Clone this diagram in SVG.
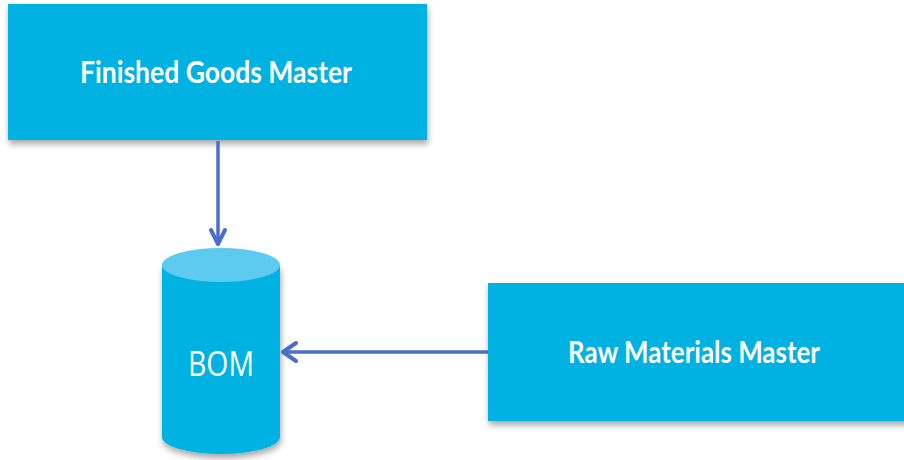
<svg xmlns="http://www.w3.org/2000/svg" width="904" height="460" viewBox="0 0 904 460">
<style>
.box{fill:#00B2E2;filter:url(#sh)}
.lbl{font-family:Lato,"Open Sans","Liberation Sans",sans-serif;font-weight:bold;font-size:30px;fill:#FFFFFF;text-anchor:middle}
.cyl{font-family:"Open Sans","Liberation Sans",sans-serif;font-size:35px;fill:#FFFFFF;text-anchor:middle}
.con{stroke:#4A6ECC;stroke-width:3.5;fill:none}
.head{stroke:#4A6ECC;stroke-width:4;fill:none;stroke-linecap:round;stroke-linejoin:round}
</style>
<defs>
<filter id="sh" x="-5%" y="-10%" width="110%" height="130%">
<feDropShadow dx="1" dy="4" stdDeviation="3" flood-color="#000000" flood-opacity="0.35"/>
</filter>
</defs>
<rect width="904" height="460" fill="#FFFFFF"/>
<g id="finished-goods">
<rect class="box" x="8" y="4" width="419" height="136"/>
<text class="lbl" x="216" y="83" textLength="272" lengthAdjust="spacingAndGlyphs">Finished Goods  Master</text>
</g>
<g id="raw-materials">
<rect class="box" x="488" y="283" width="420" height="138"/>
<text class="lbl" x="694" y="363" textLength="252" lengthAdjust="spacingAndGlyphs">Raw Materials Master</text>
</g>
<g id="bom">
<path d="M162 265 L162 437 A59 17 0 0 0 280 437 L280 265 Z" fill="#00B2E2" filter="url(#sh)"/>
<ellipse cx="221" cy="265" rx="59" ry="17" fill="#5CCBEF"/>
<text class="cyl" x="221" y="376" textLength="66" lengthAdjust="spacingAndGlyphs">BOM</text>
</g>
<g id="connectors">
<line class="con" x1="218" y1="141" x2="218" y2="243"/>
<polyline class="head" points="211,230 218,244 225,230"/>
<line class="con" x1="488" y1="352" x2="284" y2="352"/>
<polyline class="head" points="296,343 283,352 296,361"/>
</g>
</svg>
